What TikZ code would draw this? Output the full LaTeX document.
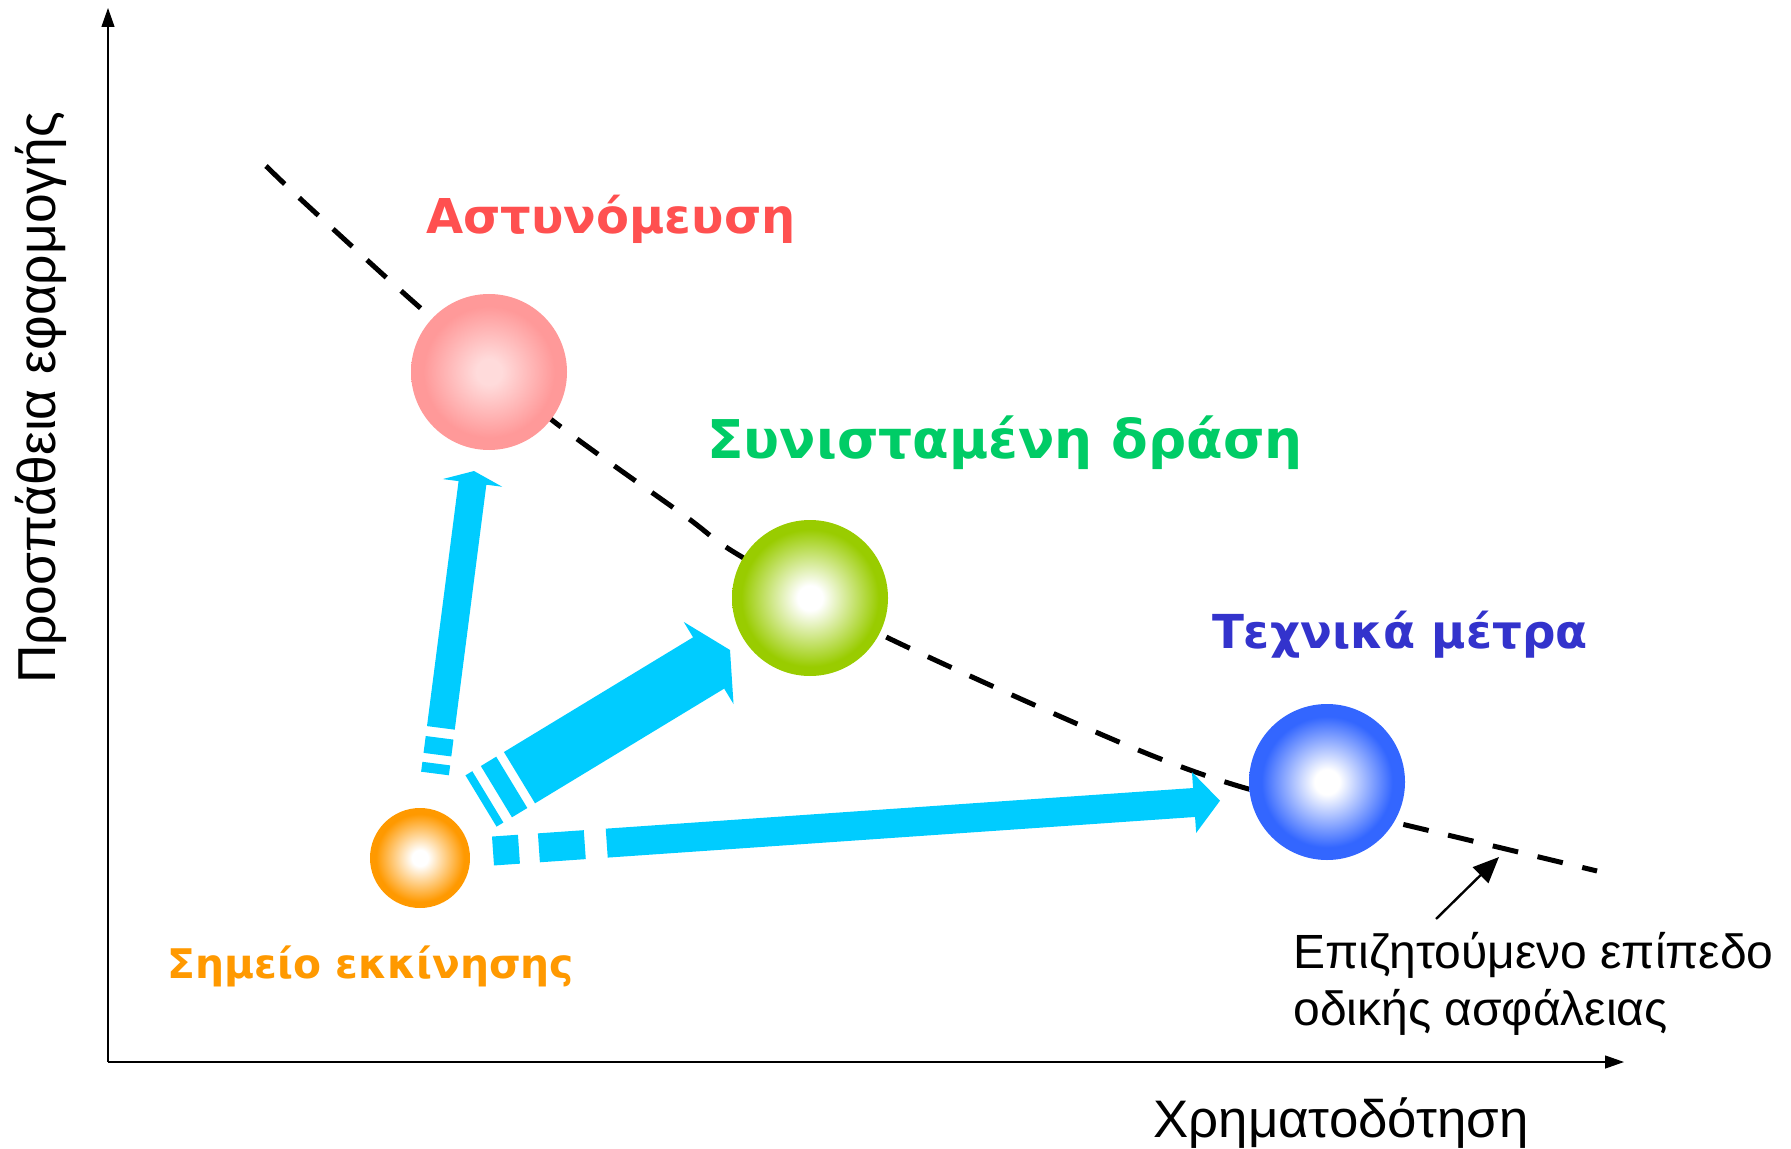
\documentclass[tikz,border=0pt]{standalone}
\usepackage{fontspec}
\setmainfont{Liberation Sans}
\newfontfamily\lblfont{DejaVu Sans}
\usetikzlibrary{calc,arrows.meta}
\definecolor{arrowcol}{HTML}{00CCFF}
\definecolor{sphR}{HTML}{FF9999}
\definecolor{sphG}{HTML}{99CC00}
\definecolor{sphB}{HTML}{3366FF}
\definecolor{sphO}{HTML}{FF9900}
\definecolor{txtR}{HTML}{FF5050}
\definecolor{txtG}{HTML}{00CC66}
\definecolor{txtB}{HTML}{3333CC}
\definecolor{txtO}{HTML}{FF9900}
\colorlet{cenR}{white!65!sphR}
\pgfdeclareradialshading{ballR}{\pgfpoint{0bp}{0bp}}{color(0bp)=(cenR); color(4bp)=(cenR); color(21bp)=(sphR); color(50bp)=(sphR)}
\pgfdeclareradialshading{ballG}{\pgfpoint{0bp}{0bp}}{color(0bp)=(white); color(4bp)=(white); color(22bp)=(sphG); color(50bp)=(sphG)}
\pgfdeclareradialshading{ballB}{\pgfpoint{0bp}{0bp}}{color(0bp)=(white); color(4bp)=(white); color(21bp)=(sphB); color(50bp)=(sphB)}
\pgfdeclareradialshading{ballO}{\pgfpoint{0bp}{0bp}}{color(0bp)=(white); color(4bp)=(white); color(22bp)=(sphO); color(50bp)=(sphO)}
% #1 start, #2 end, #3 half shaft, #4 half head, #5 head length, #6 stripe1, #7 gap1, #8 stripe2, #9 gap2
\newcommand\stripedarrow[9]{%
  \path let \p1=($(#2)-(#1)$) in \pgfextra{%
    \pgfmathsetmacro\arrang{atan2(\y1,\x1)}%
    \pgfmathsetmacro\arrlen{2*veclen(\x1,\y1)}%
    \global\let\arrang\arrang \global\let\arrlen\arrlen};
  \fill[arrowcol, shift={(#1)}, rotate=\arrang]
    (0,-#3) rectangle (#6,#3)
    (#6+#7,-#3) rectangle (#6+#7+#8,#3)
    (#6+#7+#8+#9,-#3) -- (\arrlen-#5,-#3) -- (\arrlen-#5,-#4) -- (\arrlen,0)
      -- (\arrlen-#5,#4) -- (\arrlen-#5,#3) -- (#6+#7+#8+#9,#3) -- cycle;
}
\begin{document}
\begin{tikzpicture}[x=0.5pt,y=-0.5pt,
  axis/.style={line width=0.6pt, -{Triangle[length=9.5pt,width=6.5pt]}},
  target/.style={line width=2.5pt, dash pattern=on 13pt off 10pt},
  annot/.style={line width=1.2pt, -{Triangle[length=13pt,width=11pt]}},
  ball/.style={circle, draw=none, inner sep=0pt, shade, shading=#1},
  lbl/.style={inner sep=0pt}]
\useasboundingbox (0,0) rectangle (1791,1149);
% axes
\coordinate (O) at (108,1062);
\coordinate (Ytop) at (108,8);
\coordinate (Xend) at (1624,1062);
\draw[axis] (O) -- (Ytop);
\draw[axis] (O) -- (Xend);
\node[lbl, rotate=90, font=\fontsize{26.7}{30}\selectfont] (ylab) at (41,398) {Προσπάθεια εφαρμογής};
\node[lbl, font=\fontsize{26.4}{30}\selectfont] (xlab) at (1341,1123) {Χρηματοδότηση};
% target curve
\draw[target] plot[smooth, tension=0.5] coordinates {(266,166) (307,205) (417,305) (548,417) (685,516) (737,554) (880,634) (1119,742) (1245,788) (1393,822) (1597,871)};
% spheres
\node[ball=ballR, minimum size=78pt] (police) at (489,372) {};
\node[ball=ballG, minimum size=78pt] (combo) at (810,598) {};
\node[ball=ballB, minimum size=78pt] (tech) at (1327,782) {};
\node[ball=ballO, minimum size=50pt] (start) at (420,858) {};
% labels
\node[lbl, text=txtR, font=\lblfont\bfseries\fontsize{24}{28}\selectfont] (tpolice) at (611,219) {Αστυνόμευση};
\node[lbl, text=txtG, font=\lblfont\bfseries\fontsize{26.7}{30}\selectfont] (tcombo) at (1005,443) {Συνισταμένη δράση};
\node[lbl, text=txtB, font=\lblfont\bfseries\fontsize{23.4}{28}\selectfont] (ttech) at (1400,635) {Τεχνικά μέτρα};
\node[lbl, text=txtO, font=\lblfont\bfseries\fontsize{20.4}{24}\selectfont] (tstart) at (371,966) {Σημείο εκκίνησης};
% arrows
\coordinate (aR1) at (435,773.5);
\coordinate (aR2) at (474,471);
\coordinate (aG1) at (481,801);
\coordinate (aG2) at (730,650);
\coordinate (aB1) at (493,851);
\coordinate (aB2) at (1220,800.7);
\stripedarrow{aR1}{aR2}{14}{30}{12}{10}{9}{17}{10}
\stripedarrow{aG1}{aG2}{30}{48}{25}{8}{10}{18}{9}
\stripedarrow{aB1}{aB2}{14.5}{30.5}{26}{26}{20}{46}{22}
% goal annotation
\node[lbl, align=left, anchor=west, font=\fontsize{24}{28.5}\selectfont] (goal) at (1293,984) {Επιζητούμενο επίπεδο\\οδικής ασφάλειας};
\coordinate (gtail) at (1436,919);
\coordinate (gtip) at (1499,857);
\draw[annot] (gtail) -- (gtip);
\end{tikzpicture}
\end{document}
